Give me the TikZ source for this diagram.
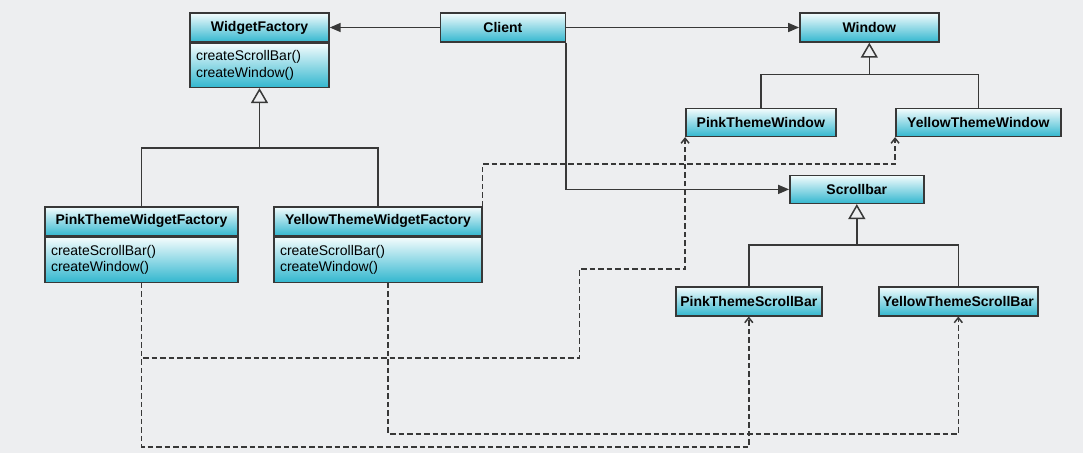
\documentclass[tikz,border=0pt]{standalone}
\usepackage{fontspec}
\setmainfont{Liberation Sans}
\usetikzlibrary{positioning,arrows.meta}
\definecolor{bg}{HTML}{EDEEF0}
\definecolor{boxtop}{HTML}{F4FCFD}
\definecolor{boxbot}{HTML}{33B7CF}
\definecolor{edge}{HTML}{383838}

\begin{document}
\begin{tikzpicture}[x=1pt,y=-1pt]
        \tikzstyle{hd} = [rectangle, draw=edge, line width=1.4pt, top color=boxtop,
                          bottom color=boxbot, minimum height=29pt, inner sep=0pt,
                          text centered, font=\fontsize{14}{16}\selectfont\bfseries]
        \tikzstyle{op} = [rectangle, draw=edge, line width=1.4pt, top color=boxtop,
                          bottom color=boxbot, minimum height=44pt, inner xsep=6pt,
                          inner ysep=0pt, align=left, font=\fontsize{14}{16.5}\selectfont]
        \tikzstyle{ln}  = [line width=1.5pt, draw=edge]
        \tikzstyle{inh} = [ln, -{Triangle[open, length=15pt, width=17pt]}]
        \tikzstyle{use} = [ln, -{Triangle[length=11pt, width=9pt]}]
        \tikzstyle{dep} = [ln, dash pattern=on 5.5pt off 3pt,
                           -{Straight Barb[length=5pt, width=8pt]}]

        \fill[bg] (0,0) rectangle (1083,453);

        \node(wf)     [hd, minimum width=139pt] at (259.5,27.5) {WidgetFactory};
        \node(wfops)  [op, text width=127pt, below=0pt of wf]
                      {createScrollBar()\\createWindow()};
        \node(client) [hd, minimum width=125pt, right=110pt of wf] {Client};
        \node(win)    [hd, minimum width=139pt, right=233pt of client] {Window};
        \node(pwin)   [hd, minimum width=150pt, minimum height=28pt,
                       below=65pt of win, xshift=-108.5pt] {PinkThemeWindow};
        \node(ywin)   [hd, minimum width=165pt, minimum height=28pt,
                       below=65pt of win, xshift=109pt] {YellowThemeWindow};
        \node(sb)     [hd, minimum width=134pt, minimum height=28pt,
                       below=132pt of win, xshift=-12.5pt] {Scrollbar};
        \node(psb)    [hd, minimum width=146pt, below=82pt of sb, xshift=-108pt]
                      {PinkThemeScrollBar};
        \node(ysb)    [hd, minimum width=159pt, below=82pt of sb, xshift=101.5pt]
                      {YellowThemeScrollBar};
        \node(pwf)    [hd, minimum width=193pt, below=118pt of wfops, xshift=-118pt]
                      {PinkThemeWidgetFactory};
        \node(pwfops) [op, text width=181pt, minimum height=45pt, below=0pt of pwf]
                      {createScrollBar()\\createWindow()};
        \node(ywf)    [hd, minimum width=208pt, below=118pt of wfops, xshift=118.5pt]
                      {YellowThemeWidgetFactory};
        \node(ywfops) [op, text width=196pt, minimum height=45pt, below=0pt of ywf]
                      {createScrollBar()\\createWindow()};

        \coordinate (wfbar)  at ([yshift=-60pt]wfops.south);
        \coordinate (winbar) at ([yshift=-32pt]win.south);
        \coordinate (sbbar)  at ([yshift=-41pt]sb.south);

        \draw[use] (client) -- (wf);
        \draw[use] (client) -- (win);
        \draw[use] (client.south east) |- (sb);

        \draw[ln]  (pwf.north) |- (wfbar) -| (ywf.north);
        \draw[inh] (wfbar) -- (wfops.south);
        \draw[ln]  (pwin.north) |- (winbar) -| (ywin.north);
        \draw[inh] (winbar) -- (win.south);
        \draw[ln]  (psb.north) |- (sbbar) -| (ysb.north);
        \draw[inh] (sbbar) -- (sb.south);

        \draw[dep] (pwfops.south) -- ++(0,75) -| ++(438,-89) -| (pwin.south west);
        \draw[dep] (ywf.north east) -- ++(0,-42) -| (ywin.south west);
        \draw[dep] (pwfops.south) -- ++(0,164) -| (psb.south);
        \draw[dep] ([xshift=10pt]ywfops.south) -- ++(0,151) -| (ysb.south);
      \end{tikzpicture}
\end{document}
